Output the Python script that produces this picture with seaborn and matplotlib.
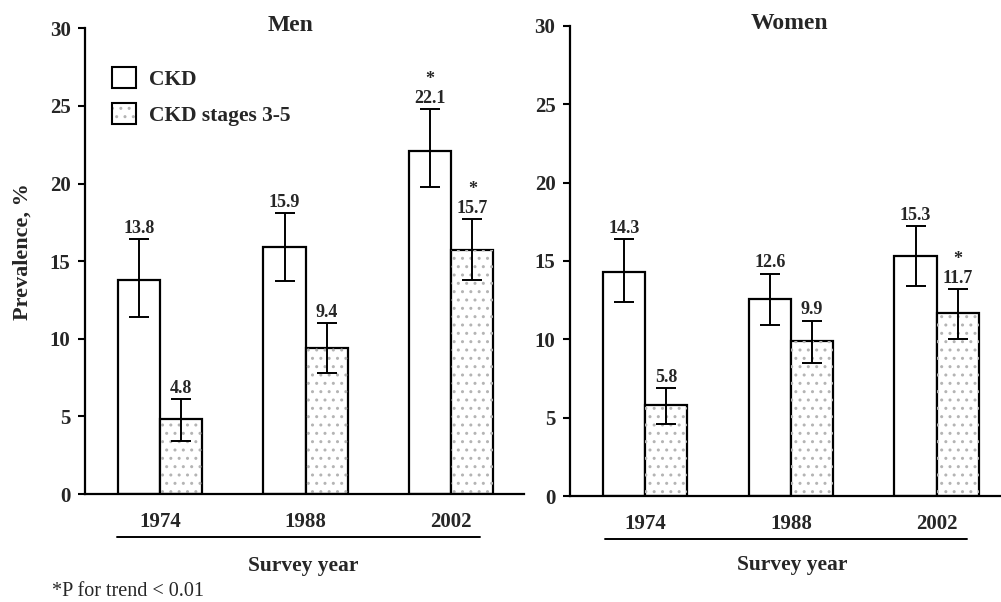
import pandas as pd
import matplotlib.pyplot as plt
import matplotlib.patches as mpatches
from matplotlib.patches import Rectangle
import seaborn as sns

# --- data ---
years = ["1974", "1988", "2002"]
measures = ["CKD", "CKD stages 3-5"]

men_ckd = [13.8, 15.9, 22.1]
men_ckd_lo = [11.4, 13.7, 19.8]
men_ckd_hi = [16.4, 18.1, 24.8]
men_stage = [4.8, 9.4, 15.7]
men_stage_lo = [3.4, 7.8, 13.8]
men_stage_hi = [6.1, 11.0, 17.7]

women_ckd = [14.3, 12.6, 15.3]
women_ckd_lo = [12.4, 10.9, 13.4]
women_ckd_hi = [16.4, 14.2, 17.2]
women_stage = [5.8, 9.9, 11.7]
women_stage_lo = [4.6, 8.5, 10.0]
women_stage_hi = [6.9, 11.2, 13.2]

# stars mark P for trend < 0.01
men_stars = [[False, False, True], [False, False, True]]
women_stars = [[False, False, False], [False, False, True]]

sns.set_theme(style="white")
plt.rcParams["font.family"] = ["Liberation Serif", "DejaVu Serif"]
plt.rcParams["font.weight"] = "bold"
plt.rcParams["axes.labelweight"] = "bold"

STIPPLE = "#b4b4b4"


def long_table(ckd, stage):
    return pd.DataFrame({
        "year": years * 2,
        "measure": [measures[0]] * 3 + [measures[1]] * 3,
        "value": ckd + stage,
    })


def draw_panel(ax, ckd, stage, lows, highs, stars, title, title_x, line_x):
    df = long_table(ckd, stage)
    sns.barplot(data=df, x="year", y="value", hue="measure", order=years,
                hue_order=measures, palette=["white", "white"],
                edgecolor="black", linewidth=1.6, width=0.58,
                errorbar=None, legend=False, ax=ax, saturation=1)

    bar_conts = list(ax.containers)
    for k, cont in enumerate(bar_conts):
        for j, bar in enumerate(cont):
            cx = bar.get_x() + bar.get_width() / 2
            h = bar.get_height()
            if k == 1:
                # light stipple inside the stage 3-5 bars
                ax.add_patch(Rectangle((bar.get_x(), 0), bar.get_width(), h,
                                       facecolor="none", edgecolor=STIPPLE,
                                       hatch="..", lw=0, zorder=bar.get_zorder() + 0.1))
            lo, hi = lows[k][j], highs[k][j]
            ax.errorbar(cx, h, yerr=[[h - lo], [hi - h]], fmt="none",
                        ecolor="black", elinewidth=1.4, capsize=7,
                        capthick=1.4, zorder=5)
            ax.annotate(f"{h:.1f}", (cx, hi), xytext=(0, 1.5),
                        textcoords="offset points", ha="center", va="bottom",
                        fontsize=13, fontweight="bold")
            if stars[k][j]:
                ax.annotate("*", (cx, hi), xytext=(0, 15),
                            textcoords="offset points", ha="center", va="bottom",
                            fontsize=13, fontweight="bold")

    ax.set_ylim(0, 30)
    ax.set_yticks(range(0, 31, 5))
    ax.set_xlim(-0.515, 2.5)
    sns.despine(ax=ax)
    for s in ["left", "bottom"]:
        ax.spines[s].set_linewidth(1.6)
        ax.spines[s].set_color("black")
    ax.tick_params(axis="y", direction="out", length=5, width=1.5,
                   labelsize=15, left=True, color="black", pad=5.5)
    ax.tick_params(axis="x", length=0, labelsize=15, pad=13)
    for lab in ax.get_xticklabels() + ax.get_yticklabels():
        lab.set_fontweight("bold")

    ax.text(title_x, 1.005, title, transform=ax.transAxes, ha="center",
            va="center", fontsize=17, fontweight="bold")
    ax.plot(line_x, [-0.092, -0.092], transform=ax.transAxes, color="black",
            lw=1.4, clip_on=False)
    ax.set_xlabel("Survey year", fontsize=15.5, fontweight="bold", va="center")


fig = plt.figure(figsize=(10.01, 6.02), dpi=100)
ax1 = fig.add_axes([0.085, 0.1794, 0.4385, 0.7736])
ax2 = fig.add_axes([0.5694, 0.176, 0.4306, 0.781])

draw_panel(ax1, men_ckd, men_stage, [men_ckd_lo, men_stage_lo],
           [men_ckd_hi, men_stage_hi], men_stars, "Men", 0.467, [0.073, 0.90])
draw_panel(ax2, women_ckd, women_stage, [women_ckd_lo, women_stage_lo],
           [women_ckd_hi, women_stage_hi], women_stars, "Women", 0.51, [0.081, 0.921])
ax2.set_xlim(-0.514, 2.44)

ax1.xaxis.set_label_coords(0.497, -0.154)
ax2.xaxis.set_label_coords(0.515, -0.146)
ax1.set_ylabel("Prevalence, %", fontsize=16, fontweight="bold")
ax1.yaxis.set_label_coords(-0.12, 0.52)
ax2.set_ylabel("")

# legend (men panel only)
h_ckd = mpatches.Patch(facecolor="white", edgecolor="black", lw=1.5)
h_stage = (mpatches.Patch(facecolor="white", edgecolor=STIPPLE, hatch="..", lw=0),
           mpatches.Patch(facecolor="none", edgecolor="black", lw=1.5))
ax1.legend([h_ckd, h_stage], measures, loc="upper left",
           bbox_to_anchor=(0.018, 0.958), frameon=False,
           handlelength=1.1, handleheight=1.1, handletextpad=0.6,
           labelspacing=0.62, prop={"weight": "bold", "size": 15.5})

fig.text(0.052, 0.017, "*P for trend < 0.01", fontsize=14.5, fontweight="normal",
         ha="left", va="center")

fig.savefig("out.png", dpi=100)
